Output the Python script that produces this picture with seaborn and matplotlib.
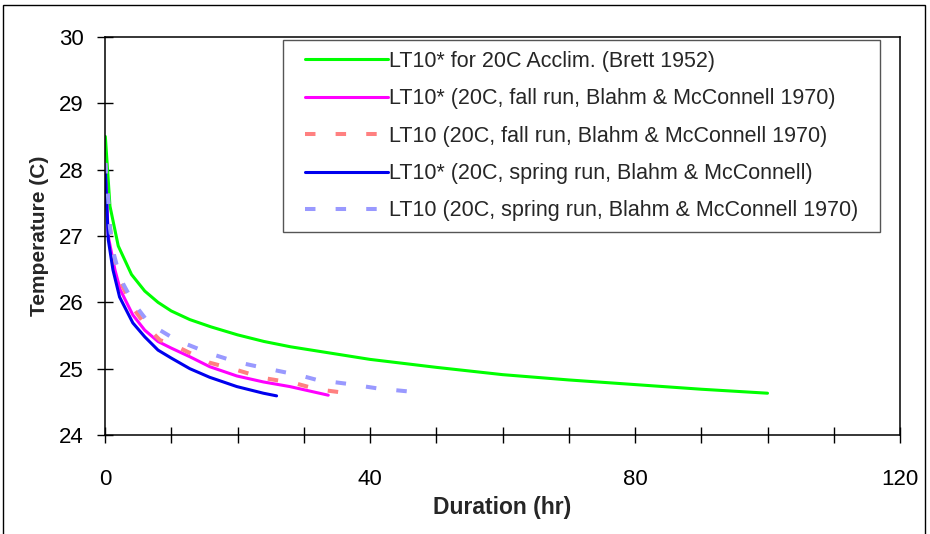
import matplotlib
matplotlib.use("Agg")
import matplotlib.pyplot as plt
import seaborn as sns
from matplotlib.patches import Rectangle
from matplotlib.ticker import MultipleLocator

sns.set_theme(style="white")
plt.rcParams['font.family'] = ['Liberation Sans', 'DejaVu Sans']

# ---- data ----
brett_x = [0.05, 0.75, 2.0, 4.0, 6.0, 8.0, 10.0, 12.8, 16.0, 20.0, 24.0, 28.0, 40.0, 50.0, 60.0, 70.0, 80.0, 90.0, 100.0]
brett_y = [28.5, 27.45, 26.85, 26.42, 26.17, 26.0, 25.87, 25.74, 25.63, 25.51, 25.41, 25.33, 25.14, 25.02, 24.91, 24.83, 24.76, 24.69, 24.63]

fall_star_x = [0.05, 0.5, 1.5, 2.3, 4.2, 6.0, 8.0, 10.0, 12.8, 15.8, 19.9, 23.9, 27.9, 33.7]
fall_star_y = [28.0, 26.99, 26.49, 26.19, 25.81, 25.58, 25.41, 25.31, 25.18, 25.03, 24.89, 24.80, 24.73, 24.60]

fall_x = [0.05, 0.75, 1.3, 2.4, 4.5, 6.3, 8.3, 10.3, 15.8, 19.9, 23.9, 28.7, 32.0, 36.6]
fall_y = [28.1, 27.14, 26.69, 26.29, 25.88, 25.63, 25.43, 25.36, 25.09, 24.98, 24.86, 24.78, 24.69, 24.63]

spring_star_x = [0.05, 0.5, 1.2, 2.2, 4.2, 6.0, 8.0, 10.0, 12.8, 15.8, 19.9, 23.9, 25.9]
spring_star_y = [27.97, 26.94, 26.49, 26.08, 25.69, 25.48, 25.28, 25.16, 25.0, 24.87, 24.73, 24.63, 24.59]

spring_x = [0.05, 0.5, 0.75, 1.3, 2.3, 4.3, 6.3, 8.3, 10.3, 12.3, 15.8, 19.9, 24.5, 29.4, 32.0, 36.7, 41.3, 46.5]
spring_y = [28.1, 27.54, 27.12, 26.74, 26.36, 25.99, 25.73, 25.58, 25.46, 25.37, 25.23, 25.10, 25.0, 24.90, 24.83, 24.77, 24.70, 24.65]

labels = [
    "LT10* for 20C Acclim. (Brett 1952)",
    "LT10* (20C, fall run, Blahm & McConnell 1970)",
    "LT10 (20C, fall run, Blahm & McConnell 1970)",
    "LT10* (20C, spring run, Blahm & McConnell)",
    "LT10 (20C, spring run, Blahm & McConnell 1970)",
]

fig = plt.figure(figsize=(9.3, 5.34), dpi=100)
ax = fig.add_axes([105/930, 1-435/534, 795/930, 398/534])

dash = (0, (2.6, 5.0))
sns.lineplot(x=brett_x, y=brett_y, ax=ax, color="#00FF00", lw=2.2, label=labels[0], sort=False, estimator=None)
sns.lineplot(x=fall_star_x, y=fall_star_y, ax=ax, color="#FF00FF", lw=2.2, label=labels[1], sort=False, estimator=None)
sns.lineplot(x=fall_x, y=fall_y, ax=ax, color="#FF8080", lw=2.9, linestyle=dash, label=labels[2], sort=False, estimator=None)
sns.lineplot(x=spring_star_x, y=spring_star_y, ax=ax, color="#0000EE", lw=2.2, label=labels[3], sort=False, estimator=None)
sns.lineplot(x=spring_x, y=spring_y, ax=ax, color="#9999FF", lw=2.9, linestyle=dash, label=labels[4], sort=False, estimator=None)

ax.set_xlim(0, 120)
ax.set_ylim(24, 30)
ax.xaxis.set_major_locator(MultipleLocator(40))
ax.xaxis.set_minor_locator(MultipleLocator(10))
ax.yaxis.set_major_locator(MultipleLocator(1))
ax.tick_params(axis="x", which="both", direction="inout", length=11, width=1, colors="black",
               labelsize=16, pad=19, bottom=True)
ax.tick_params(axis="y", which="major", direction="inout", length=11, width=1, colors="black",
               labelsize=16, pad=10, left=True)
for s in ax.spines.values():
    s.set_color("black")
    s.set_linewidth(1.1)

ax.set_xlabel("Duration (hr)", fontsize=16.5, fontweight="bold", labelpad=4)
ax.set_ylabel("Temperature (C)", fontsize=15, fontweight="bold", labelpad=7)

leg = ax.legend(loc="upper left", bbox_to_anchor=(305/930, 1-51/534), bbox_transform=fig.transFigure,
                borderaxespad=0, borderpad=0, frameon=False, fontsize=15.5, handlelength=3.85,
                handletextpad=0.05, labelspacing=0.76)

fig.canvas.draw()
bb = leg.get_window_extent()
W, H = fig.bbox.width, fig.bbox.height
px, py = 22, 11
fig.patches.append(Rectangle(((bb.x0 - px) / W, (bb.y0 - py) / H), (bb.width + 2 * px) / W,
                             (bb.height + 2 * py) / H, transform=fig.transFigure, fill=False,
                             edgecolor="#555555", linewidth=1.0, zorder=5))

fig.patches.append(Rectangle((3/930, -0.05), 922/930, 1.05 - 5/534, transform=fig.transFigure,
                             fill=False, edgecolor="black", linewidth=1.0))

fig.savefig("out.png", dpi=100)
